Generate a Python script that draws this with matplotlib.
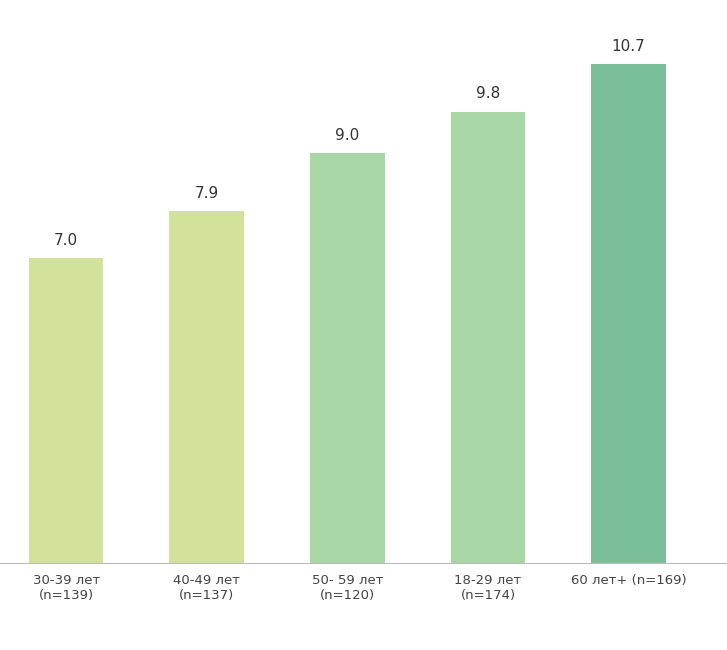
import matplotlib
matplotlib.use('Agg')
import matplotlib.pyplot as plt

categories = ['30-39 лет\n(n=139)', '40-49 лет\n(n=137)', '50- 59 лет\n(n=120)',
              '18-29 лет\n(n=174)', '60 лет+ (n=169)']
values = [7.0, 7.9, 9.0, 9.8, 10.7]
colors = ['#d3e29b', '#d3e29b', '#a8d6a4', '#a8d6a4', '#7bbf9a']

fig = plt.figure(figsize=(7.27, 6.5), dpi=100)
ax = fig.add_axes([0, 0.134, 1, 0.866])
x = range(len(values))
ax.bar(x, values, width=0.53, color=colors, zorder=2)
for i, v in zip(x, values):
    ax.text(i, v + 0.2, '%.1f' % v, ha='center', va='bottom', fontsize=11, color='#333333')
ax.set_xlim(-0.47, 4.70)
ax.set_ylim(1.18, 11.93)
ax.set_yticks([])
ax.set_xticks(list(x))
ax.set_xticklabels(categories, fontsize=9.5, color='#444444', va='top')
ax.tick_params(axis='x', length=0, pad=8)
for s in ['top', 'right', 'left']:
    ax.spines[s].set_visible(False)
ax.spines['bottom'].set_color('#bbbbbb')
for lbl in ax.get_xticklabels():
    if '60' in lbl.get_text():
        lbl.set_va('top')
fig.savefig('out.png', dpi=100)
